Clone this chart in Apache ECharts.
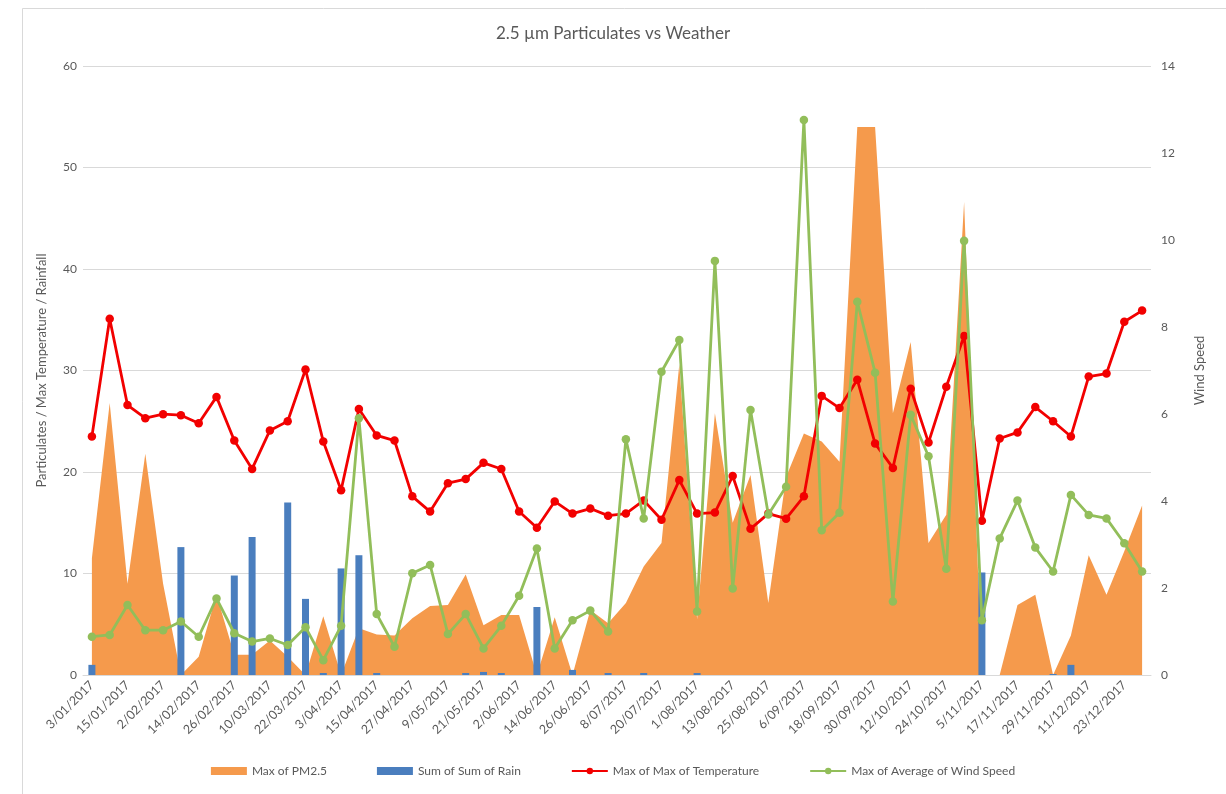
<!DOCTYPE html>
<html>
<head>
<meta charset="utf-8">
<script src="https://cdn.jsdelivr.net/npm/echarts@6/dist/echarts.min.js"></script>
<style>
html,body{margin:0;padding:0;background:#fff;}
#chart{width:1226px;height:794px;}
</style>
</head>
<body>
<div id="chart"></div>
<script>
const categories = [
"3/01/2017","9/01/2017","15/01/2017","24/01/2017","2/02/2017","8/02/2017","14/02/2017","20/02/2017","26/02/2017","4/03/2017",
"10/03/2017","16/03/2017","22/03/2017","28/03/2017","3/04/2017","9/04/2017","15/04/2017","21/04/2017","27/04/2017","3/05/2017",
"9/05/2017","15/05/2017","21/05/2017","27/05/2017","2/06/2017","8/06/2017","14/06/2017","20/06/2017","26/06/2017","2/07/2017",
"8/07/2017","14/07/2017","20/07/2017","26/07/2017","1/08/2017","7/08/2017","13/08/2017","19/08/2017","25/08/2017","31/08/2017",
"6/09/2017","12/09/2017","18/09/2017","24/09/2017","30/09/2017","6/10/2017","12/10/2017","18/10/2017","24/10/2017","30/10/2017",
"5/11/2017","11/11/2017","17/11/2017","23/11/2017","29/11/2017","5/12/2017","11/12/2017","17/12/2017","23/12/2017","29/12/2017"
];

const pm25 = [
11.5,26.8,9.0,21.8,9.0,0,1.8,7.9,2.0,2.0,
3.4,1.8,0,5.8,0,4.6,4.0,3.9,5.6,6.8,
6.9,9.9,4.9,5.9,5.9,0,5.7,0,6.4,5.1,
7.1,10.7,13.0,30.6,5.5,25.8,15.0,19.7,7.1,19.5,
23.8,23.0,21.0,54,54,25.8,32.8,13.0,15.8,46.6,
0,0,6.9,7.9,0,3.9,11.8,7.9,12.2,16.7
];

const rain = [
1.0,0,0,0,0,12.6,0,0,9.8,13.6,
0,17.0,7.5,0.2,10.5,11.8,0.2,0,0,0,
0,0.2,0.3,0.2,0,6.7,0,0.5,0,0.2,
0,0.2,0,0,0.2,0,0,0,0,0,
0,0,0,0,0,0,0,0,0,0,
10.1,0,0,0,0.1,1.0,0,0,0,0
];

const maxTemp = [
23.5,35.1,26.6,25.3,25.7,25.6,24.8,27.4,23.1,20.3,
24.1,25.0,30.1,23.0,18.2,26.2,23.6,23.1,17.6,16.1,
18.9,19.3,20.9,20.3,16.1,14.5,17.1,15.9,16.4,15.7,
15.9,17.2,15.3,19.2,15.9,16.0,19.6,14.4,15.9,15.4,
17.6,27.5,26.3,29.1,22.8,20.4,28.2,22.9,28.4,33.4,
15.2,23.3,23.9,26.4,25.0,23.5,29.4,29.7,34.8,35.9
];

const windSpeed = [
0.88,0.92,1.61,1.03,1.03,1.23,0.88,1.76,0.96,0.77,
0.84,0.69,1.10,0.34,1.13,5.90,1.40,0.65,2.34,2.53,
0.94,1.40,0.61,1.13,1.82,2.91,0.61,1.26,1.48,1.00,
5.42,3.60,6.97,7.70,1.46,9.52,1.99,6.09,3.69,4.33,
12.76,3.33,3.73,8.58,6.95,1.69,5.98,5.03,2.44,9.98,
1.26,3.14,4.01,2.93,2.38,4.14,3.68,3.60,3.03,2.38
];

const leftTicks = {min:0, max:60, interval:10};
const rightTicks = {min:0, max:14, interval:2};

const FONT = 'Lato, "Open Sans", sans-serif';
const TXT = '#595959';
const GRIDC = '#d9d9d9';
const C_PM = '#F59A4C';
const C_RAIN = '#4A7EBE';
const C_TEMP = '#F20000';
const C_WIND = '#92BE5A';

const chart = echarts.init(document.getElementById('chart'), null, {renderer:'canvas'});
chart.setOption({
  animation: false,
  backgroundColor: '#fff',
  textStyle: {fontFamily: FONT},
  graphic: [{
    type: 'rect', silent: true, z: -10,
    shape: {x: 22.5, y: 8.5, width: 1240, height: 800},
    style: {fill: null, stroke: '#d9d9d9', lineWidth: 1}
  }],
  title: {
    text: '2.5 \u00b5m Particulates vs Weather',
    left: 'center', top: 20,
    textStyle: {fontFamily: FONT, fontSize: 17, fontWeight: 'normal', color: TXT}
  },
  legend: {
    bottom: 12, left: 'center', itemGap: 50, itemWidth: 36, itemHeight: 8,
    textStyle: {fontFamily: FONT, fontSize: 12, color: TXT},
    data: [
      {name: 'Max of PM2.5', icon: 'rect'},
      {name: 'Sum of Sum of Rain', icon: 'rect'},
      {name: 'Max of Max of Temperature'},
      {name: 'Max of Average of Wind Speed'}
    ]
  },
  grid: {left: 83, right: 75, top: 66, bottom: 119},
  xAxis: {
    type: 'category', data: categories, boundaryGap: true,
    axisTick: {show: false},
    axisLine: {show: true, lineStyle: {color: GRIDC, width: 1}},
    axisLabel: {interval: 1, rotate: 45, fontSize: 12.5, color: TXT, fontFamily: FONT, margin: 8}
  },
  yAxis: [
    {
      type: 'value', min: leftTicks.min, max: leftTicks.max, interval: leftTicks.interval,
      name: 'Particulates / Max Temperature / Rainfall', nameLocation: 'middle', nameGap: 35,
      nameTextStyle: {fontFamily: FONT, fontSize: 13, color: TXT},
      axisLine: {show: false}, axisTick: {show: false},
      axisLabel: {fontSize: 12, color: TXT, fontFamily: FONT, margin: 6},
      splitLine: {lineStyle: {color: GRIDC, width: 1}}
    },
    {
      type: 'value', min: rightTicks.min, max: rightTicks.max, interval: rightTicks.interval,
      name: 'Wind Speed', nameLocation: 'middle', nameGap: 42, nameRotate: 90,
      nameTextStyle: {fontFamily: FONT, fontSize: 13, color: TXT},
      axisLine: {show: false}, axisTick: {show: false},
      axisLabel: {fontSize: 12, color: TXT, fontFamily: FONT, margin: 10},
      splitLine: {show: false}
    }
  ],
  series: [
    {
      name: 'Max of PM2.5', type: 'line', yAxisIndex: 0, data: pm25,
      showSymbol: false, symbol: 'none',
      lineStyle: {width: 0, color: C_PM},
      itemStyle: {color: C_PM},
      areaStyle: {color: C_PM, opacity: 1},
      z: 1
    },
    {
      name: 'Sum of Sum of Rain', type: 'bar', yAxisIndex: 0, data: rain,
      barWidth: 7, itemStyle: {color: C_RAIN}, z: 2
    },
    {
      name: 'Max of Max of Temperature', type: 'line', yAxisIndex: 0, data: maxTemp,
      symbol: 'circle', symbolSize: 8.5,
      lineStyle: {width: 2.8, color: C_TEMP},
      itemStyle: {color: C_TEMP}, z: 3
    },
    {
      name: 'Max of Average of Wind Speed', type: 'line', yAxisIndex: 1, data: windSpeed,
      symbol: 'circle', symbolSize: 8.5,
      lineStyle: {width: 2.8, color: C_WIND},
      itemStyle: {color: C_WIND}, z: 4
    }
  ]
});
</script>
</body>
</html>
